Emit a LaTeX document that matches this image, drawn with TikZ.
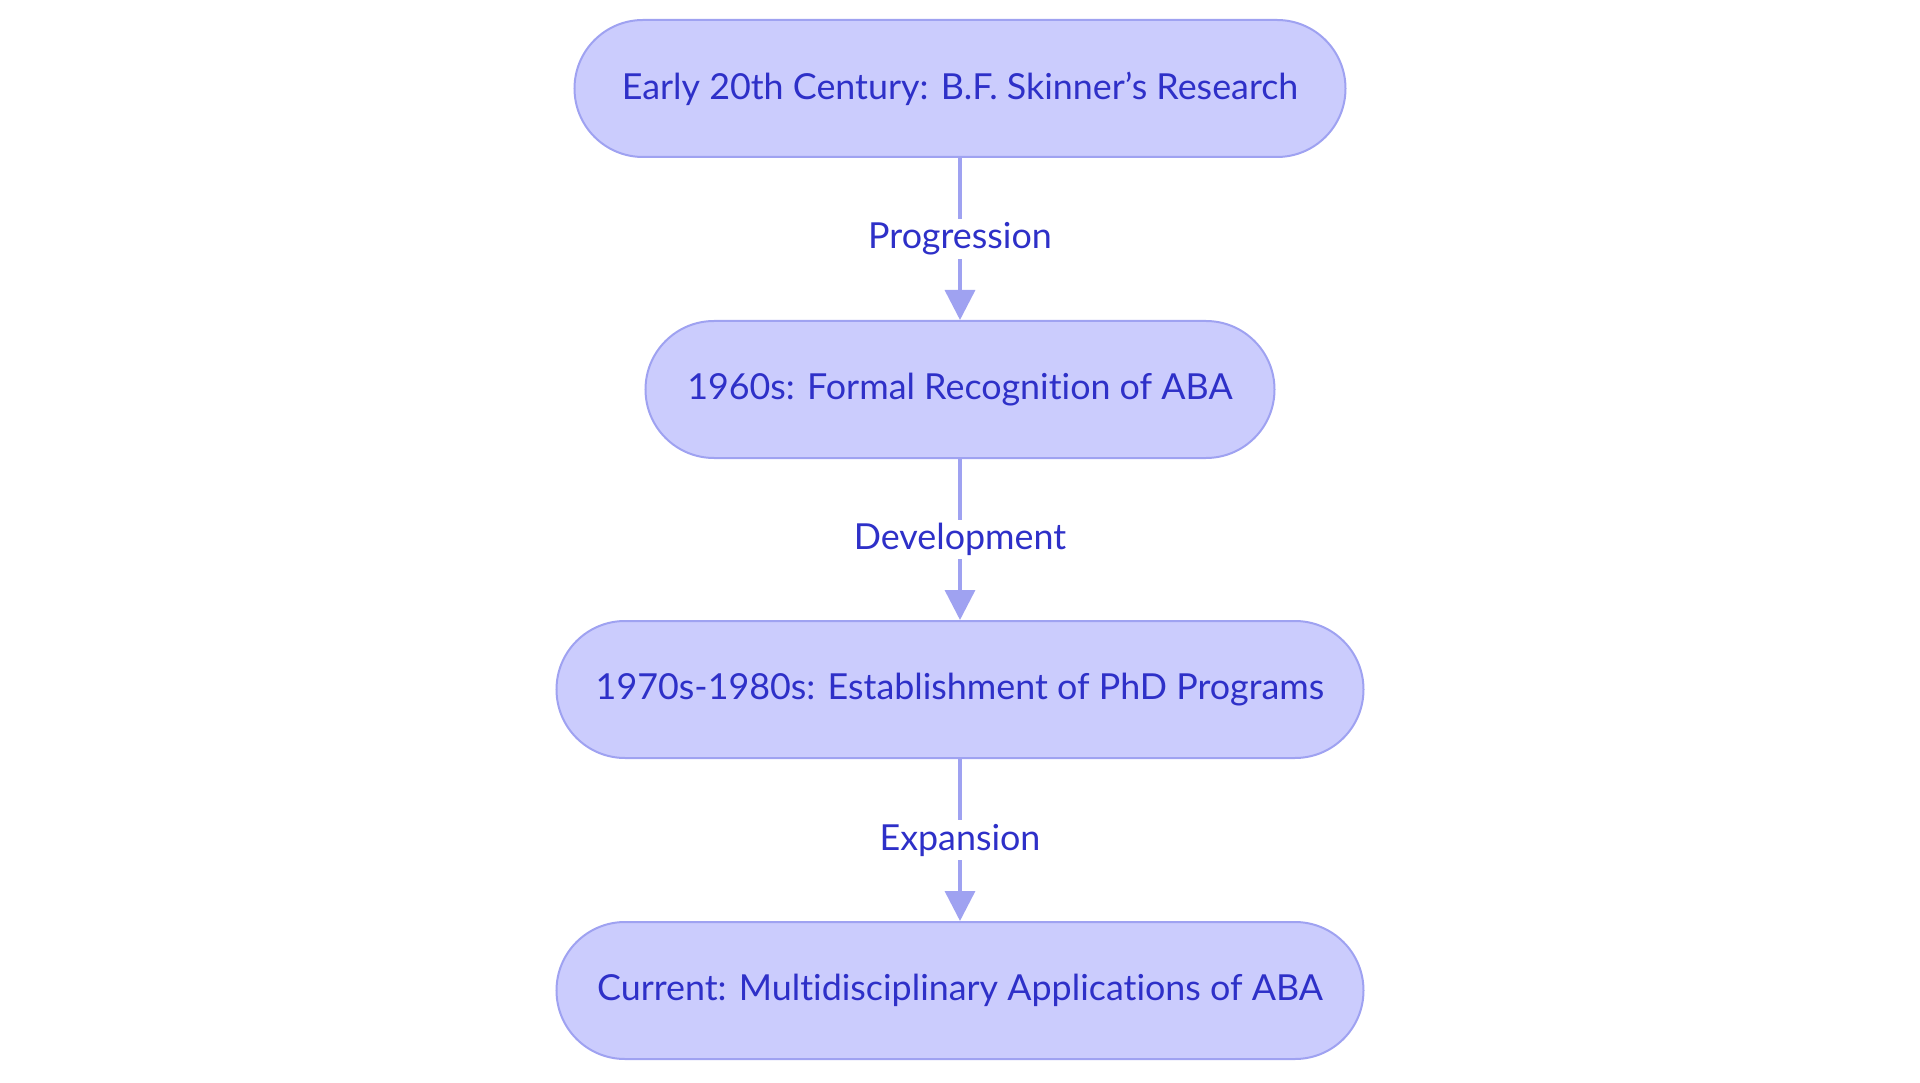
\documentclass[tikz,border=0pt]{standalone}
\usepackage{fontspec}
\setmainfont{Lato}[Ligatures=NoCommon]

\definecolor{boxfill}{HTML}{CBCCFD}
\definecolor{boxline}{HTML}{9FA2F1}
\definecolor{boxtext}{HTML}{2E30C8}

\begin{document}
\begin{tikzpicture}[
  stage/.style={draw=boxline, line width=0.02cm, fill=boxfill, text=boxtext,
    rounded corners=0.685cm, minimum height=1.37cm, inner sep=0pt,
    font=\fontsize{10.2}{12}\selectfont},
  link/.style={draw=boxline, line width=0.035cm, -{Triangle[length=0.3cm, width=0.3cm]}},
  tag/.style={fill=white, text=boxtext, inner sep=1pt, font=\fontsize{10.2}{12}\selectfont}
]
\usetikzlibrary{arrows.meta}

% Define the frame
\useasboundingbox (-9.6,0) rectangle (9.6,-10.83);

% Define the stages
\node[stage, minimum width=7.71cm] (skinner) at (0,-0.885) {Early 20th Century: B.F. Skinner’s Research};
\node[stage, minimum width=6.29cm] (sixties) at (0,-3.895) {1960s: Formal Recognition of ABA};
\node[stage, minimum width=8.07cm] (phd) at (0,-6.895) {1970s-1980s: Establishment of PhD Programs};
\node[stage, minimum width=8.07cm] (current) at (0,-9.905) {Current: Multidisciplinary Applications of ABA};

% Draw the links
\draw[link] (skinner) -- node[tag] {Progression} (sixties);
\draw[link] (sixties) -- node[tag] {Development} (phd);
\draw[link] (phd) -- node[tag] {Expansion} (current);

\end{tikzpicture}
\end{document}
